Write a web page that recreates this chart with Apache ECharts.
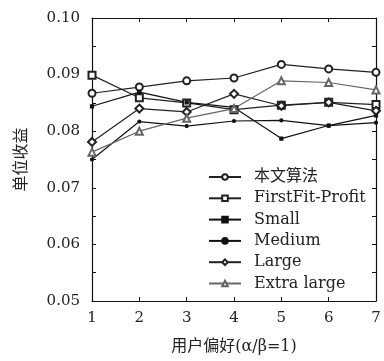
<!DOCTYPE html>
<html>
<head>
<meta charset="utf-8">
<script src="https://cdn.jsdelivr.net/npm/echarts@6/dist/echarts.min.js"></script>
<style>html,body{margin:0;padding:0;background:#fff}#c{width:384px;height:361px}</style>
</head>
<body>
<div id="c"></div>
<script>
const categories = [1, 2, 3, 4, 5, 6, 7];
const seriesNames = ['本文算法', 'FirstFit-Profit', 'Small', 'Medium', 'Large', 'Extra large'];
const oursData = [0.0867, 0.0878, 0.0889, 0.0894, 0.0918, 0.0910, 0.0904];
const firstFitData = [0.0899, 0.0859, 0.0850, 0.0838, 0.0846, 0.0851, 0.0847];
const smallData = [0.0844, 0.0869, 0.0851, 0.0842, 0.0787, 0.0810, 0.0828];
const mediumData = [0.0750, 0.0817, 0.0809, 0.0818, 0.0819, 0.0810, 0.0815];
const largeData = [0.0781, 0.0840, 0.0834, 0.0866, 0.0845, 0.0851, 0.0836];
const extraLargeData = [0.0763, 0.0800, 0.0823, 0.0840, 0.0889, 0.0886, 0.0873];
const yTicks = [0.05, 0.06, 0.07, 0.08, 0.09, 0.10];

const serif = '"DejaVu Serif", "Noto Sans CJK SC", serif';
const chart = echarts.init(document.getElementById('c'), null, {renderer: 'canvas'});

function mk(name, data, symbol, size, color) {
  return {
    name: name, type: 'line', data: data.map((v, i) => [categories[i], v]),
    symbol: symbol, symbolSize: size,
    lineStyle: {color: color, width: 1.2},
    itemStyle: {color: color, borderColor: color, borderWidth: 1.2},
    animation: false
  };
}

const axisCommon = {
  axisLine: {show: true, lineStyle: {color: '#111', width: 1.2}},
  axisTick: {show: true, inside: true, length: 4, lineStyle: {color: '#111'}},
  splitLine: {show: false}
};

chart.setOption({
  animation: false,
  grid: {left: 92, right: 8, top: 18, bottom: 60},
  legend: {
    orient: 'vertical', left: 203, top: 164,
    itemWidth: 32, itemHeight: 7, itemGap: 5.3,
    textStyle: {fontFamily: serif, fontSize: 16, color: '#222', padding: [0, 0, 0, 8]},
    data: seriesNames
  },
  xAxis: [
    Object.assign({}, axisCommon, {
      type: 'value', min: 1, max: 7, interval: 1, position: 'bottom',
      name: '用户偏好(α/β=1)', nameLocation: 'middle', nameGap: 38,
      nameTextStyle: {fontFamily: serif, fontSize: 16, color: '#222'},
      axisLabel: {fontFamily: serif, fontSize: 15, color: '#222', margin: 10}
    }),
    Object.assign({}, axisCommon, {
      type: 'value', min: 1, max: 7, interval: 1, position: 'top',
      axisLabel: {show: false}
    })
  ],
  yAxis: [
    Object.assign({}, axisCommon, {
      type: 'value', min: 0.05, max: 0.10, interval: 0.01, position: 'left',
      minorTick: {show: true, splitNumber: 2, length: 4, lineStyle: {color: '#111'}},
      name: '单位收益', nameLocation: 'middle', nameGap: 62, nameRotate: 90,
      nameTextStyle: {fontFamily: serif, fontSize: 16, color: '#222'},
      axisLabel: {fontFamily: serif, fontSize: 15, color: '#222', margin: 12,
        formatter: v => { const t = yTicks.find(x => Math.abs(x - v) < 1e-9); return t !== undefined ? t.toFixed(2) : ''; }}
    }),
    Object.assign({}, axisCommon, {
      type: 'value', min: 0.05, max: 0.10, interval: 0.01, position: 'right',
      minorTick: {show: true, splitNumber: 2, length: 4, lineStyle: {color: '#111'}},
      axisLabel: {show: false}
    })
  ],
  series: [
    mk(seriesNames[0], oursData, 'emptyCircle', 7, '#222'),
    mk(seriesNames[1], firstFitData, 'emptyRect', 7, '#222'),
    mk(seriesNames[2], smallData, 'rect', 3, '#111'),
    mk(seriesNames[3], mediumData, 'circle', 3, '#111'),
    mk(seriesNames[4], largeData, 'emptyDiamond', 8, '#222'),
    mk(seriesNames[5], extraLargeData, 'emptyTriangle', 7, '#666')
  ]
});
</script>
</body>
</html>
